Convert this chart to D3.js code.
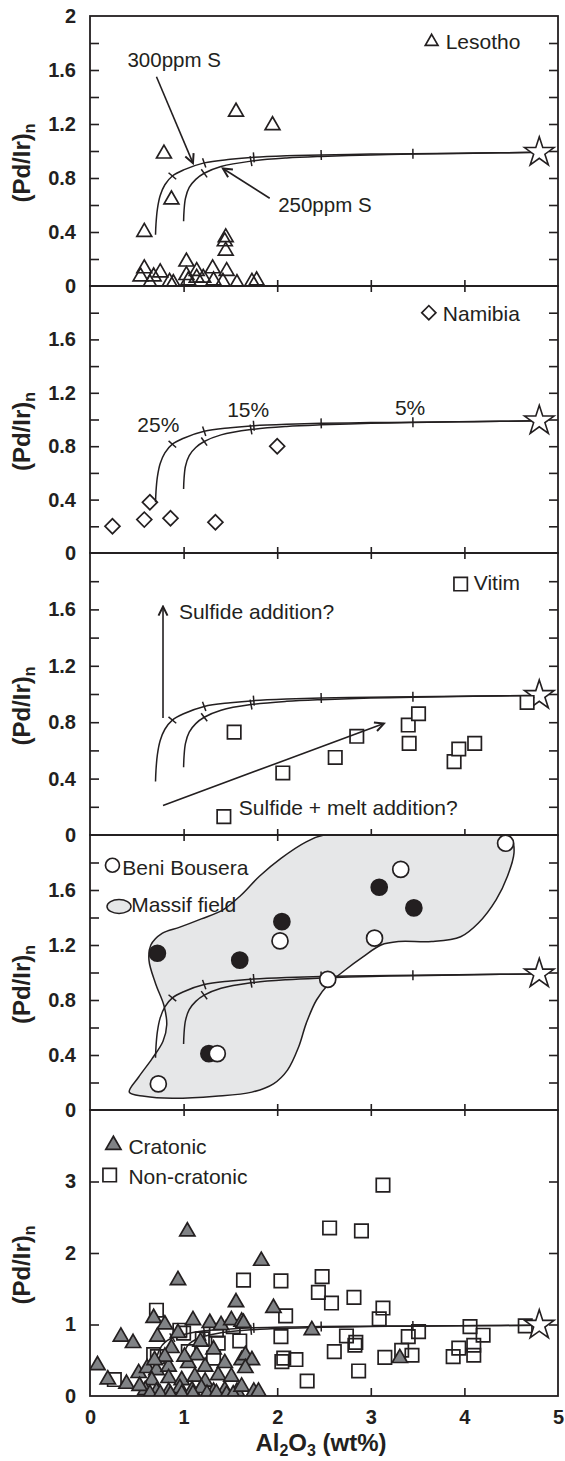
<!DOCTYPE html>
<html>
<head>
<meta charset="utf-8">
<script src="https://cdn.jsdelivr.net/npm/d3@7"></script>
<style>
  body { margin: 0; background: #fff; }
  text { font-family: "Liberation Sans", Arial, sans-serif; fill: #231f20; }
</style>
</head>
<body>
<svg id="chart" width="565" height="1461"></svg>
<script>
// ---------- data: (Al2O3 wt%, (Pd/Ir)n) ----------
const lesotho = [
  [0.58, 0.40], [0.79, 0.98], [0.87, 0.64], [1.56, 1.29], [1.95, 1.19],
  [1.45, 0.36], [1.44, 0.33], [1.45, 0.26],
  [1.03, 0.18], [0.58, 0.13], [0.75, 0.10], [0.68, 0.07], [0.54, 0.07],
  [0.64, 0.02], [0.85, 0.03], [0.89, 0.02], [1.03, 0.08], [1.14, 0.11],
  [1.05, 0.04], [1.21, 0.06], [1.31, 0.13], [1.46, 0.11], [1.42, 0.03],
  [1.57, 0.02], [1.32, 0.04], [1.73, 0.03], [1.78, 0.04], [1.14, 0.06]
];
const namibia = [
  [0.24, 0.20], [0.58, 0.25], [0.64, 0.38], [0.86, 0.26], [1.34, 0.23], [2.00, 0.80]
];
const vitim = [
  [1.54, 0.73], [2.06, 0.44], [1.43, 0.13], [2.62, 0.55], [2.85, 0.70],
  [3.40, 0.78], [3.51, 0.86], [3.41, 0.65], [3.89, 0.52], [3.94, 0.61],
  [4.11, 0.65], [4.67, 0.94]
];
const beniOpen = [
  [4.44, 1.94], [3.32, 1.75], [2.03, 1.23], [3.04, 1.25], [2.54, 0.95],
  [1.36, 0.41], [0.73, 0.19]
];
const beniFilled = [
  [0.72, 1.14], [1.60, 1.09], [2.05, 1.37], [3.09, 1.62], [3.46, 1.47], [1.27, 0.41]
];
const massifField = [
  [0.42, 0.13], [0.58, 0.10], [0.88, 0.085], [1.34, 0.10], [1.73, 0.13],
  [1.96, 0.19], [2.11, 0.29], [2.23, 0.46], [2.31, 0.63], [2.42, 0.80],
  [2.555, 0.92], [2.73, 1.02], [2.92, 1.115], [3.11, 1.20], [3.30, 1.225],
  [3.65, 1.225], [3.96, 1.26], [4.15, 1.36], [4.34, 1.53], [4.46, 1.70],
  [4.53, 1.87], [4.51, 1.96], [4.42, 2.0], [3.5, 2.0], [2.50, 2.0],
  [2.31, 1.95], [2.04, 1.83], [1.81, 1.70], [1.61, 1.56], [1.42, 1.455],
  [1.19, 1.39], [0.96, 1.33], [0.77, 1.285], [0.65, 1.20], [0.63, 1.09],
  [0.70, 0.92], [0.79, 0.76], [0.82, 0.62], [0.78, 0.50], [0.66, 0.37],
  [0.52, 0.24]
];
const cratonic = [
  [0.08, 0.43], [0.19, 0.23], [0.33, 0.83], [0.46, 0.74], [0.39, 0.17],
  [0.52, 0.32], [0.61, 0.39], [0.71, 0.36], [0.84, 0.41], [1.05, 0.46],
  [1.23, 0.41], [1.44, 0.46], [1.62, 0.50], [0.66, 0.22], [0.84, 0.25],
  [0.98, 0.22], [1.12, 0.27], [1.23, 0.20], [1.37, 0.29], [1.51, 0.27],
  [0.59, 0.08], [0.71, 0.06], [0.84, 0.06], [0.96, 0.11], [1.09, 0.08],
  [1.19, 0.11], [1.32, 0.06], [1.44, 0.08], [1.57, 0.06], [0.53, 0.14],
  [0.64, 0.03], [0.75, 0.03], [0.86, 0.02], [0.98, 0.03], [1.10, 0.03],
  [1.25, 0.03], [1.35, 0.04], [1.46, 0.02], [1.53, 0.02], [1.62, 0.13],
  [1.75, 0.06], [1.80, 0.06], [0.94, 1.62], [1.04, 2.30], [1.83, 1.89],
  [1.56, 1.31], [1.96, 1.23], [0.68, 1.09], [0.80, 1.00], [0.72, 0.83],
  [0.94, 0.88], [1.10, 1.06], [1.28, 1.02], [1.40, 0.99], [1.51, 1.06],
  [1.62, 1.04], [1.18, 0.76], [1.32, 0.65], [0.87, 0.67], [0.80, 0.55],
  [1.14, 0.57], [1.01, 0.55], [0.69, 0.50], [1.66, 0.57], [1.73, 0.50],
  [1.66, 0.39], [2.37, 0.92], [3.31, 0.53], [1.64, 1.02]
];
const nonCratonic = [
  [0.26, 0.23], [0.71, 1.20], [0.68, 0.58], [0.96, 0.92], [1.35, 0.92],
  [1.53, 0.97], [1.37, 0.74], [1.32, 0.53], [1.60, 0.77], [1.64, 1.62],
  [2.04, 1.61], [2.09, 1.12], [2.04, 0.83], [2.05, 0.48], [2.07, 0.53],
  [2.20, 0.51], [2.32, 0.21], [2.44, 1.45], [2.48, 1.67], [2.58, 1.30],
  [2.56, 2.35], [2.90, 2.31], [3.13, 2.95], [2.82, 1.38], [2.74, 0.84],
  [2.83, 0.71], [2.84, 0.75], [2.61, 0.62], [2.87, 0.35], [3.13, 1.23],
  [3.09, 1.08], [3.15, 0.54], [3.33, 0.64], [3.40, 0.83], [3.51, 0.90],
  [3.44, 0.57], [3.88, 0.55], [3.94, 0.67], [4.06, 0.97], [4.20, 0.85],
  [4.10, 0.71], [4.10, 0.57], [4.65, 0.98], [1.00, 0.88], [1.20, 0.80],
  [1.05, 0.62], [0.72, 0.55]
];

// melting model curves (300 and 250 ppm S) and their melt-degree marks
const curve300 = [
  [0.70, 0.38], [0.705, 0.46], [0.72, 0.57], [0.75, 0.67], [0.80, 0.75],
  [0.88, 0.815], [1.0, 0.86], [1.22, 0.912], [1.5, 0.938], [1.75, 0.953],
  [2.1, 0.964], [2.47, 0.971], [3.0, 0.977], [3.45, 0.98], [4.1, 0.985], [4.8, 0.99]
];
const curve250 = [
  [1.0, 0.48], [1.005, 0.56], [1.02, 0.65], [1.06, 0.73], [1.13, 0.79],
  [1.22, 0.835], [1.4, 0.885], [1.72, 0.925], [2.1, 0.948], [2.47, 0.96],
  [3.0, 0.971], [3.45, 0.977], [4.1, 0.984], [4.8, 0.99]
];
const marks300 = [[0.88, 0.815], [1.22, 0.912], [1.75, 0.953], [2.47, 0.971], [3.45, 0.98]];
const marks250 = [[1.22, 0.835], [1.72, 0.925]];
const primitiveMantle = [4.8, 0.99];

// axis tick values
const xTickValues = [1, 2, 3, 4];
const xLabelValues = [0, 1, 2, 3, 4, 5];
const yMinorTicks = [0.2, 0.4, 0.6, 0.8, 1.0, 1.2, 1.4, 1.6, 1.8];
const yLabelsTop = [0, 0.4, 0.8, 1.2, 1.6, 2];
const yLabels = [0, 0.4, 0.8, 1.2, 1.6];
const yTicksWide = [1, 2, 3];
const yLabelsWide = [0, 1, 2, 3];

// ---------- layout ----------
const ink = "#231f20";
const svg = d3.select("#chart");
const x = d3.scaleLinear().domain([0, 5]).range([90, 558]);

const panels = [
  { top: 16,   bottom: 286,  max: 2, ticks: yMinorTicks, labels: yLabelsTop, topTicks: false },
  { top: 286,  bottom: 553,  max: 2, ticks: yMinorTicks, labels: yLabels, topTicks: true },
  { top: 553,  bottom: 835,  max: 2, ticks: yMinorTicks, labels: yLabels, topTicks: true },
  { top: 835,  bottom: 1110, max: 2, ticks: yMinorTicks, labels: yLabels, topTicks: true },
  { top: 1110, bottom: 1396, max: 4, ticks: yTicksWide,  labels: yLabelsWide, topTicks: true }
];
panels.forEach(p => {
  p.y = d3.scaleLinear().domain([0, p.max]).range([p.bottom, p.top]);
});

const defs = svg.append("defs");
defs.append("marker")
  .attr("id", "head").attr("viewBox", "-12 -7 14 14")
  .attr("refX", 0).attr("refY", 0)
  .attr("markerWidth", 14).attr("markerHeight", 14)
  .attr("markerUnits", "userSpaceOnUse").attr("orient", "auto")
  .append("path").attr("d", "M-9,-4.5 L0,0 L-9,4.5")
  .attr("fill", "none").attr("stroke", ink).attr("stroke-width", 2);
panels.forEach((p, i) => {
  defs.append("clipPath").attr("id", "clip" + i)
    .append("rect").attr("x", x(0)).attr("y", p.top)
    .attr("width", x(5) - x(0)).attr("height", p.bottom - p.top);
});

const fmtY = d => d === 0 ? "0" : (Number.isInteger(d) ? String(d) : d.toFixed(1));

// ---------- frames & axes ----------
panels.forEach((p, i) => {
  const g = svg.append("g");
  // left ticks (inward) and labels
  g.append("g").attr("transform", `translate(${x(0)},0)`)
    .call(d3.axisLeft(p.y).tickValues(p.ticks).tickSizeInner(-9).tickSizeOuter(0).tickFormat(""))
    .call(a => a.select(".domain").remove());
  g.append("g").attr("transform", `translate(${x(0)},0)`)
    .call(d3.axisLeft(p.y).tickValues(p.labels).tickSize(0).tickPadding(14).tickFormat(fmtY))
    .call(a => a.select(".domain").remove())
    .selectAll("text").style("font-size", "20px").style("font-weight", "bold")
    .style("font-family", '"Liberation Sans", Arial, sans-serif').attr("fill", ink);
  // right ticks (inward)
  g.append("g").attr("transform", `translate(${x(5)},0)`)
    .call(d3.axisRight(p.y).tickValues(p.ticks).tickSizeInner(-9).tickSizeOuter(0).tickFormat(""))
    .call(a => a.select(".domain").remove());
  // bottom / top ticks
  g.append("g").attr("transform", `translate(0,${p.bottom})`)
    .call(d3.axisBottom(x).tickValues(xTickValues).tickSizeInner(i === 4 ? -8 : -6).tickSizeOuter(0).tickFormat(""))
    .call(a => a.select(".domain").remove());
  if (p.topTicks) {
    g.append("g").attr("transform", `translate(0,${p.top})`)
      .call(d3.axisTop(x).tickValues(xTickValues).tickSizeInner(-6).tickSizeOuter(0).tickFormat(""))
      .call(a => a.select(".domain").remove());
  }
  g.selectAll(".tick line").attr("stroke", ink).attr("stroke-width", 1.6);
  // y title
  const cy = (p.top + p.bottom) / 2 + 12;
  const t = svg.append("text")
    .attr("transform", `translate(30,${cy}) rotate(-90)`)
    .attr("text-anchor", "middle")
    .style("font-size", "24px").style("font-weight", "bold");
  t.append("tspan").text("(Pd/Ir)");
  t.append("tspan").text("n").attr("dy", 5).style("font-size", "16px");
});

// x labels & title
svg.append("g").attr("transform", `translate(0,${panels[4].bottom})`)
  .call(d3.axisBottom(x).tickValues(xLabelValues).tickSize(0).tickPadding(14).tickFormat(d3.format("d")))
  .call(a => a.select(".domain").remove())
  .selectAll("text").style("font-size", "20px").style("font-weight", "bold")
  .style("font-family", '"Liberation Sans", Arial, sans-serif').attr("fill", ink);
const xt = svg.append("text").attr("x", 321).attr("y", 1451).attr("text-anchor", "middle")
  .style("font-size", "24px").style("font-weight", "bold");
xt.append("tspan").text("Al");
xt.append("tspan").text("2").attr("dy", 5).style("font-size", "16px");
xt.append("tspan").text("O").attr("dy", -5);
xt.append("tspan").text("3").attr("dy", 5).style("font-size", "16px");
xt.append("tspan").text(" (wt%)").attr("dy", -5);

// ---------- helpers ----------
const line = (p) => d3.line().x(d => x(d[0])).y(d => p.y(d[1])).curve(d3.curveCatmullRom.alpha(0.5));
const sym = (type, size) => d3.symbol().type(type).size(size)();

function drawCurves(g, p) {
  [curve300, curve250].forEach(c => {
    g.append("path").datum(c).attr("d", line(p))
      .attr("fill", "none").attr("stroke", ink).attr("stroke-width", 1.5);
  });
  [[marks300, curve300], [marks250, curve250]].forEach(([marks, c]) => {
    marks.forEach(m => {
      // local direction of the curve in screen space
      let k = c.findIndex(d => d[0] >= m[0]);
      if (k <= 0) k = 1;
      const a = c[k - 1], b = c[k];
      const dx = x(b[0]) - x(a[0]), dy = p.y(b[1]) - p.y(a[1]);
      const len = Math.hypot(dx, dy);
      const nx = -dy / len * 5, ny = dx / len * 5;
      const cx = x(m[0]), cy = p.y(m[1]);
      g.append("line").attr("x1", cx - nx).attr("y1", cy - ny)
        .attr("x2", cx + nx).attr("y2", cy + ny)
        .attr("stroke", ink).attr("stroke-width", 1.5);
    });
  });
}
function drawStar(g, p) {
  g.append("path").attr("d", sym(d3.symbolStar, 270))
    .attr("transform", `translate(${x(primitiveMantle[0])},${p.y(primitiveMantle[1])})`)
    .attr("fill", "#fff").attr("stroke", ink).attr("stroke-width", 1.6);
}
function points(g, p, data, type, size, fill, rot) {
  g.selectAll(null).data(data).enter().append("path")
    .attr("d", sym(type, size))
    .attr("transform", d => `translate(${x(d[0])},${p.y(d[1])})` + (rot ? ` rotate(${rot})` : ""))
    .attr("fill", fill).attr("stroke", ink).attr("stroke-width", 1.7);
}
function label(g, p, txt, xv, yv, size, anchor) {
  return g.append("text").attr("x", x(xv)).attr("y", p.y(yv))
    .attr("text-anchor", anchor || "start").style("font-size", (size || 21) + "px").text(txt);
}
function arrow(g, p, from, to) {
  g.append("line").attr("x1", x(from[0])).attr("y1", p.y(from[1]))
    .attr("x2", x(to[0])).attr("y2", p.y(to[1]))
    .attr("stroke", ink).attr("stroke-width", 1.6).attr("marker-end", "url(#head)");
}

// ---------- panel 1: Lesotho ----------
{
  const p = panels[0];
  const g = svg.append("g").attr("clip-path", "url(#clip0)");
  drawCurves(g, p);
  points(g, p, lesotho, d3.symbolTriangle, 95, "none");
  drawStar(g, p);
  const a = svg.append("g");
  points(a, p, [[3.65, 1.81]], d3.symbolTriangle, 70, "none");
  label(a, p, "Lesotho", 3.80, 1.755);
  label(a, p, "300ppm S", 0.40, 1.62, 20.5);
  arrow(a, p, [0.71, 1.55], [1.10, 0.91]);
  label(a, p, "250ppm S", 2.01, 0.55, 20.5);
  arrow(a, p, [1.92, 0.65], [1.42, 0.87]);
}

// ---------- panel 2: Namibia ----------
{
  const p = panels[1];
  const g = svg.append("g").attr("clip-path", "url(#clip1)");
  drawCurves(g, p);
  points(g, p, namibia, d3.symbolSquare, 112, "none", 45);
  drawStar(g, p);
  const a = svg.append("g");
  points(a, p, [[3.62, 1.80]], d3.symbolSquare, 100, "none", 45);
  label(a, p, "Namibia", 3.77, 1.74);
  label(a, p, "25%", 0.73, 0.91, 21, "middle");
  label(a, p, "15%", 1.69, 1.02, 21, "middle");
  label(a, p, "5%", 3.42, 1.035, 21, "middle");
}

// ---------- panel 3: Vitim ----------
{
  const p = panels[2];
  const g = svg.append("g").attr("clip-path", "url(#clip2)");
  drawCurves(g, p);
  drawStar(g, p);
  points(g, p, vitim, d3.symbolSquare, 180, "#fff");
  const a = svg.append("g");
  points(a, p, [[3.96, 1.78]], d3.symbolSquare, 180, "#fff");
  label(a, p, "Vitim", 4.10, 1.74);
  arrow(a, p, [0.78, 0.83], [0.78, 1.62]);
  label(a, p, "Sulfide addition?", 0.95, 1.53);
  arrow(a, p, [0.78, 0.21], [3.14, 0.79]);
  label(a, p, "Sulfide + melt addition?", 1.59, 0.145);
}

// ---------- panel 4: Beni Bousera ----------
{
  const p = panels[3];
  const g = svg.append("g").attr("clip-path", "url(#clip3)");
  g.append("path").datum(massifField)
    .attr("d", d3.line().x(d => x(d[0])).y(d => p.y(d[1])).curve(d3.curveCatmullRomClosed.alpha(0.5)))
    .attr("fill", "#e6e7e8").attr("stroke", ink).attr("stroke-width", 1.5);
  drawCurves(g, p);
  drawStar(g, p);
  points(g, p, beniFilled, d3.symbolCircle, Math.PI * 64, ink);
  points(g, p, beniOpen, d3.symbolCircle, Math.PI * 64, "#fff");
  const a = svg.append("g");
  points(a, p, [[0.24, 1.78]], d3.symbolCircle, Math.PI * 49, "#fff");
  label(a, p, "Beni Bousera", 0.345, 1.71);
  a.append("ellipse").attr("cx", x(0.31)).attr("cy", p.y(1.48)).attr("rx", 12).attr("ry", 7)
    .attr("fill", "#e6e7e8").attr("stroke", ink).attr("stroke-width", 1.5);
  label(a, p, "Massif field", 0.44, 1.44);
}

// ---------- panel 5: cratonic vs non-cratonic ----------
{
  const p = panels[4];
  const g = svg.append("g").attr("clip-path", "url(#clip4)");
  drawCurves(g, p);
  points(g, p, nonCratonic, d3.symbolSquare, 180, "none");
  points(g, p, cratonic, d3.symbolTriangle, 100, "#808285");
  drawStar(g, p);
  const a = svg.append("g");
  points(a, p, [[0.25, 3.51]], d3.symbolTriangle, 100, "#808285");
  label(a, p, "Cratonic", 0.41, 3.39);
  points(a, p, [[0.21, 3.09]], d3.symbolSquare, 180, "none");
  label(a, p, "Non-cratonic", 0.41, 2.97);
}

// frames last so the boundaries stay crisp
panels.forEach(p => {
  svg.append("rect").attr("x", x(0)).attr("y", p.top)
    .attr("width", x(5) - x(0)).attr("height", p.bottom - p.top)
    .attr("fill", "none").attr("stroke", ink).attr("stroke-width", 1.8);
});
</script>
</body>
</html>
